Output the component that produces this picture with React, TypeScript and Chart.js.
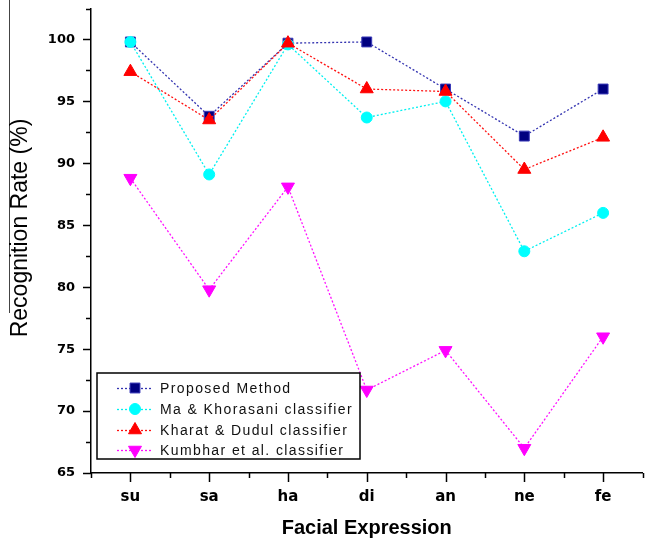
import React, { useEffect, useRef } from "react";
import { Chart, registerables } from "chart.js";

Chart.register(...registerables);

const categories = ["su", "sa", "ha", "di", "an", "ne", "fe"];
const seriesLabels = [
  "Proposed Method",
  "Ma & Khorasani classifier",
  "Kharat & Dudul classifier",
  "Kumbhar et al. classifier",
];
const proposedMethod = [99.8, 93.8, 99.7, 99.8, 96.0, 92.2, 96.0];
const maKhorasani = [99.8, 89.1, 99.6, 93.7, 95.0, 82.9, 86.0];
const kharatDudul = [97.4, 93.5, 99.7, 96.0, 95.8, 89.5, 92.1];
const kumbhar = [88.8, 79.8, 88.1, 71.7, 74.9, 67.0, 76.0];
const yMin = 65;
const yMax = 102.5;
const yMajorStep = 5;
const yMinorStep = 2.5;
const xTitle = "Facial Expression";
const yTitle = "Recognition Rate (%)";

const seriesValues = [proposedMethod, maKhorasani, kharatDudul, kumbhar];

const styles = [
  { line: "#3333b0", fill: "#000080", border: "#3a3ab8", pointStyle: "rect", radius: 7, rotation: 0 },
  { line: "#00f0f0", fill: "#00ffff", border: "#00ffff", pointStyle: "circle", radius: 5.5, rotation: 0 },
  { line: "#ff1010", fill: "#ff0000", border: "#ff0000", pointStyle: "triangle", radius: 7.5, rotation: 0 },
  { line: "#ff10ff", fill: "#ff00ff", border: "#ff00ff", pointStyle: "triangle", radius: 7.5, rotation: 180 },
];

const decorPlugin = {
  id: "decor",
  afterDraw(chart: any) {
    const ctx = chart.ctx as CanvasRenderingContext2D;
    const { left, bottom } = chart.chartArea;
    const ys = chart.scales.y;
    const xs = chart.scales.x;
    ctx.save();
    ctx.strokeStyle = "#000";
    ctx.lineWidth = 1.5;
    // y ticks
    for (let v = yMin; v <= yMax + 1e-9; v += yMinorStep) {
      const py = Math.round(ys.getPixelForValue(v)) + 0.5;
      const major = Math.abs(v / yMajorStep - Math.round(v / yMajorStep)) < 1e-6;
      const len = major ? 8 : 5;
      ctx.beginPath();
      ctx.moveTo(left - len, py);
      ctx.lineTo(left, py);
      ctx.stroke();
    }
    // x ticks
    for (let k = 0; k <= categories.length * 2; k++) {
      const pos = -0.5 + k * 0.5;
      const px = Math.round(xs.getPixelForValue(pos)) + 0.5;
      const major = k % 2 === 1;
      const len = major ? 9 : 5;
      ctx.beginPath();
      ctx.moveTo(px, bottom);
      ctx.lineTo(px, bottom + len);
      ctx.stroke();
    }
    // stray scan line at left
    ctx.strokeStyle = "#444";
    ctx.lineWidth = 1;
    ctx.beginPath();
    ctx.moveTo(9.5, 0);
    ctx.lineTo(9.5, 313);
    ctx.stroke();

    // y title
    ctx.fillStyle = "#000";
    ctx.font = "23px 'Liberation Sans', Arial, sans-serif";
    ctx.textAlign = "center";
    ctx.textBaseline = "middle";
    ctx.translate(21, 228);
    ctx.rotate(-Math.PI / 2);
    ctx.fillText(yTitle, 0, 0);
    ctx.restore();

    // legend
    ctx.save();
    const bx = 97, by = 373, bw = 263, bh = 86;
    ctx.fillStyle = "#fff";
    ctx.fillRect(bx, by, bw, bh);
    ctx.strokeStyle = "#000";
    ctx.lineWidth = 1.5;
    ctx.strokeRect(bx, by, bw, bh);
    const rowYs = [388, 409, 430, 450];
    seriesLabels.forEach((label, i) => {
      const st = styles[i];
      const ry = rowYs[i];
      ctx.save();
      ctx.strokeStyle = st.line;
      ctx.lineWidth = 1.3;
      ctx.setLineDash([2, 2]);
      ctx.beginPath();
      ctx.moveTo(117, ry + 0.5);
      ctx.lineTo(151, ry + 0.5);
      ctx.stroke();
      ctx.restore();
      ctx.save();
      ctx.fillStyle = st.fill;
      ctx.strokeStyle = st.border;
      ctx.lineWidth = 1;
      ctx.beginPath();
      const cx = 135;
      const r = st.radius;
      if (st.pointStyle === "rect") {
        const s = r * Math.SQRT1_2;
        ctx.rect(cx - s, ry - s, 2 * s, 2 * s);
      } else if (st.pointStyle === "circle") {
        ctx.arc(cx, ry, r, 0, Math.PI * 2);
      } else {
        const dir = st.rotation === 180 ? -1 : 1;
        ctx.moveTo(cx, ry - dir * r);
        ctx.lineTo(cx - r * Math.sin(Math.PI / 3), ry + dir * r / 2);
        ctx.lineTo(cx + r * Math.sin(Math.PI / 3), ry + dir * r / 2);
        ctx.closePath();
      }
      ctx.fill();
      ctx.stroke();
      ctx.restore();
      ctx.fillStyle = "#111";
      ctx.font = "14px 'Liberation Sans', Arial, sans-serif";
      (ctx as any).letterSpacing = "1.4px";
      ctx.textAlign = "left";
      ctx.textBaseline = "middle";
      ctx.fillText(label, 160, ry + 1);
    });
    ctx.restore();
  },
};

export default function App() {
  const ref = useRef<HTMLCanvasElement>(null);
  useEffect(() => {
    if (!ref.current) return;
    const chart = new Chart(ref.current, {
      type: "line",
      data: {
        labels: categories,
        datasets: seriesValues.map((vals, i) => ({
          label: seriesLabels[i],
          data: vals,
          borderColor: styles[i].line,
          backgroundColor: styles[i].fill,
          pointBackgroundColor: styles[i].fill,
          pointBorderColor: styles[i].border,
          pointBorderWidth: 1,
          pointStyle: styles[i].pointStyle as any,
          pointRotation: styles[i].rotation,
          pointRadius: styles[i].radius,
          borderWidth: 1.3,
          borderDash: [2, 2],
          tension: 0,
          fill: false,
          order: 4 - i,
        })),
      },
      options: {
        responsive: false,
        animation: false,
        devicePixelRatio: 1,
        layout: { padding: { top: 6, right: 0, left: 0, bottom: 0 } },
        plugins: { legend: { display: false }, tooltip: { enabled: false } },
        scales: {
          x: {
            type: "category",
            offset: true,
            grid: { display: false, drawTicks: false },
            border: { display: true, color: "#000", width: 1.5 },
            ticks: {
              color: "#000",
              padding: 15,
              font: { family: "'DejaVu Sans', sans-serif", size: 15, weight: "bold" },
            },
            title: {
              display: true,
              text: xTitle,
              color: "#000",
              font: { family: "'Liberation Sans', Arial, sans-serif", size: 20, weight: "bold" },
              padding: { top: 0, bottom: 3 },
            },
            afterFit: (s: any) => {
              s.height = 70;
              s.paddingLeft = 0;
              s.paddingRight = 0;
            },
          },
          y: {
            type: "linear",
            min: yMin,
            max: yMax,
            grid: { display: false, drawTicks: false },
            border: { display: true, color: "#000", width: 1.5 },
            afterBuildTicks: (s: any) => {
              const t = [];
              for (let v = yMin; v <= 100; v += yMajorStep) t.push({ value: v });
              s.ticks = t;
            },
            ticks: {
              color: "#000",
              padding: 16,
              font: { family: "'DejaVu Sans', sans-serif", size: 13, weight: "bold" },
            },
            afterFit: (s: any) => {
              s.width = 91;
              s.paddingTop = 0;
              s.paddingBottom = 0;
            },
          },
        },
      },
      plugins: [decorPlugin],
    });
    return () => chart.destroy();
  }, []);
  return (
    <div style={{ position: "absolute", left: 0, top: 0, width: 651, height: 543, background: "#fff" }}>
      <canvas ref={ref} width={651} height={543} style={{ width: 651, height: 543, display: "block" }} />
    </div>
  );
}
